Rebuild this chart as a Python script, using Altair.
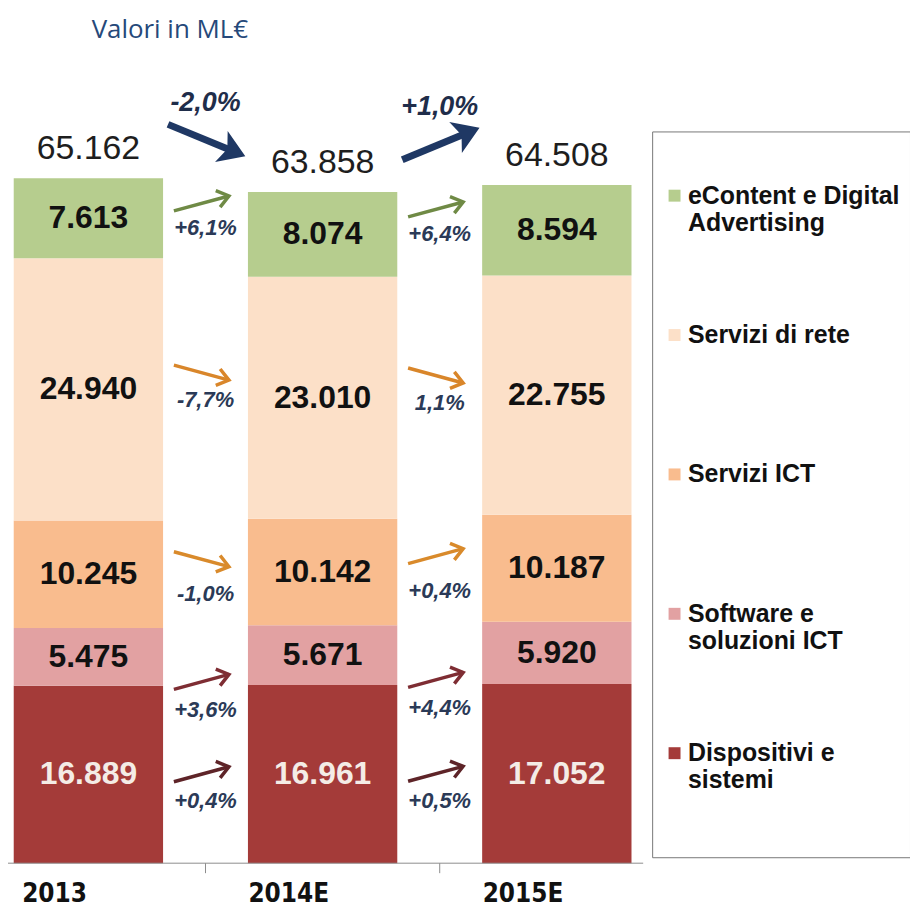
import json
import math
import altair as alt
import pandas as pd

# ---------------- data ----------------
YEARS = ["2013", "2014E", "2015E"]
# stacking order: bottom -> top
CATEGORIES = [
    "Dispositivi e sistemi",
    "Software e soluzioni ICT",
    "Servizi ICT",
    "Servizi di rete",
    "eContent e Digital Advertising",
]
DISPOSITIVI = [16889, 16961, 17052]
SOFTWARE = [5475, 5671, 5920]
SERVIZI_ICT = [10245, 10142, 10187]
SERVIZI_RETE = [24940, 23010, 22755]
ECONTENT = [7613, 8074, 8594]
TOTAL_GROWTH = ["-2,0%", "+1,0%"]
# growth labels per category (bottom -> top), for 2013->2014E and 2014E->2015E
GROWTH_GAP1 = ["+0,4%", "+3,6%", "-1,0%", "-7,7%", "+6,1%"]
GROWTH_GAP2 = ["+0,5%", "+4,4%", "+0,4%", "1,1%", "+6,4%"]
TITLE = "Valori in ML€"

# ---------------- styles / layout ----------------
LEGEND_ORDER = list(reversed(CATEGORIES))
BAR_COLORS = {
    "Dispositivi e sistemi": "#A43B39",
    "Software e soluzioni ICT": "#E2A1A2",
    "Servizi ICT": "#F9BC8E",
    "Servizi di rete": "#FCE0C8",
    "eContent e Digital Advertising": "#B6CD8E",
}
ARROW_COLORS = {
    "Dispositivi e sistemi": "#5E2428",
    "Software e soluzioni ICT": "#7E2D33",
    "Servizi ICT": "#D98A2B",
    "Servizi di rete": "#D9862A",
    "eContent e Digital Advertising": "#6F8A45",
}
ARROW_DY_PX = {  # arrow centre offset from segment middle (px, + = down)
    "Dispositivi e sistemi": 0,
    "Software e soluzioni ICT": 26,
    "Servizi ICT": -14,
    "Servizi di rete": -21,
    "eContent e Digital Advertising": -23,
}
LABEL_GAP_PX = {  # growth label below the arrow centre (px)
    "Dispositivi e sistemi": 27,
    "Software e soluzioni ICT": 28,
    "Servizi ICT": 35,
    "Servizi di rete": 28,
    "eContent e Digital Advertising": 25,
}
LEGEND_LINES = {
    "eContent e Digital Advertising": ["eContent e Digital", "Advertising"],
    "Software e soluzioni ICT": ["Software e", "soluzioni ICT"],
    "Dispositivi e sistemi": ["Dispositivi e", "sistemi"],
}
NAVY = "#1F3864"
AXIS_GREY = "#8c8c8c"
W, H = 638, 805
KX = 239.0
X0 = 0.178
X_DOMAIN = [X0, X0 + W / KX]
Y_MAX = 76244
KY = H / Y_MAX
BAR_W = 150

SERIES = [DISPOSITIVI, SOFTWARE, SERVIZI_ICT, SERVIZI_RETE, ECONTENT]


def fmt(v):
    return f"{v:,}".replace(",", ".")


# ---------------- tables ----------------
rows = []
for yi, year in enumerate(YEARS):
    base = 0
    for ci, cat in enumerate(CATEGORIES):
        v = SERIES[ci][yi]
        rows.append(dict(year=year, xc=yi + 0.5, cat=cat, y0=base, y1=base + v,
                         ymid=base + v / 2, label=fmt(v),
                         tcolor="#F4ECE6" if cat == "Dispositivi e sistemi" else "#111111"))
        base += v
bars = pd.DataFrame(rows)

totals = [sum(s[yi] for s in SERIES) for yi in range(len(YEARS))]
tot_df = pd.DataFrame(dict(xc=[i + 0.5 for i in range(len(YEARS))], total=totals,
                           label=[fmt(t) for t in totals], year=YEARS,
                           base=[0] * len(YEARS)))


def seg_mid(ci, yi):
    return bars[(bars.cat == CATEGORIES[ci]) & (bars.year == YEARS[yi])].ymid.iloc[0]


def angle_of(x1, y1, x2, y2):
    a = math.degrees(math.atan2(-(y2 - y1) * KY, (x2 - x1) * KX))
    return a % 360


small = []
for g, labels in enumerate([GROWTH_GAP1, GROWTH_GAP2]):
    gx = g + 1.0
    for ci, cat in enumerate(CATEGORIES):
        left, right = SERIES[ci][g], SERIES[ci][g + 1]
        d = 1 if right > left else -1
        m = (seg_mid(ci, g) + seg_mid(ci, g + 1)) / 2
        c = m - ARROW_DY_PX[cat] / KY
        hr = 7.5 / KY
        x1, x2 = gx - 0.135, gx + 0.10
        y1, y2 = c - d * hr, c + d * hr
        small.append(dict(gx=gx, x1=x1, x2=x2, y1=y1, y2=y2, ang=angle_of(x1, y1, x2, y2),
                          ylab=c - LABEL_GAP_PX[cat] / KY, label=labels[ci],
                          col=ARROW_COLORS[cat]))
small_df = pd.DataFrame(small)

big = []
for g, lab in enumerate(TOTAL_GROWTH):
    gx = g + 1.0
    d = 1 if totals[g + 1] > totals[g] else -1
    mid = (totals[g] + totals[g + 1]) / 2 + 45 / KY
    hr = 16 / KY
    x1, x2 = gx - 0.16, gx + 0.17
    y1, y2 = mid - d * hr, mid + d * hr
    # shorten the shaft so it ends under the head
    dxp, dyp = (x2 - x1) * KX, (y2 - y1) * KY
    ln = math.hypot(dxp, dyp)
    xe = x2 - (dxp / ln) * 14 / KX
    ye = y2 - (dyp / ln) * 14 / KY
    big.append(dict(gx=gx, x1=x1, y1=y1, xe=xe, ye=ye, x2=x2, y2=y2,
                    ang=angle_of(x1, y1, x2, y2), ylab=mid + 37 / KY, label=lab))
big_df = pd.DataFrame(big)

ticks_df = pd.DataFrame(dict(t=[i + 1.0 for i in range(len(YEARS) - 1)], base=0))
base_df = pd.DataFrame(dict(base=[0]))

# ---------------- encodings ----------------
xs = alt.Scale(domain=X_DOMAIN, nice=False, zero=False)
ys = alt.Scale(domain=[0, Y_MAX], nice=False, zero=False)


def X(f):
    return alt.X(f, type="quantitative", scale=xs, axis=None, title=None)


def Y(f):
    return alt.Y(f, type="quantitative", scale=ys, axis=None, title=None)


label_expr = " : ".join(
    f"datum.label == {json.dumps(k)} ? {json.dumps(v + [''] * (4 - len(v)))}"
    for k, v in LEGEND_LINES.items()
) + " : [datum.label, '', '', '']"

bar_layer = alt.Chart(bars).mark_bar(size=BAR_W).encode(
    x=X("xc"),
    y=Y("y0"),
    y2="y1:Q",
    color=alt.Color("cat:N",
                    scale=alt.Scale(domain=LEGEND_ORDER, range=[BAR_COLORS[c] for c in LEGEND_ORDER]),
                    legend=alt.Legend(orient="none", legendX=647, legendY=70, title=" ",
                                      titleFontSize=23, titlePadding=19, padding=10,
                                      strokeColor="#777777", fillColor="white",
                                      symbolType="square", symbolSize=144, symbolStrokeWidth=0,
                                      labelFontSize=25, labelFont="Liberation Sans",
                                      labelFontWeight="bold", labelColor="#111111",
                                      labelOffset=1, labelLimit=400, rowPadding=33,
                                      labelExpr=label_expr)),
)

# category axis: base line, ticks between the bars and the year labels
base_rule = alt.Chart(base_df).mark_rule(color=AXIS_GREY, strokeWidth=1).encode(
    x=alt.value(0), x2=alt.value(W), y=Y("base")
)
tick_layer = alt.Chart(ticks_df).mark_rule(color=AXIS_GREY, strokeWidth=1).encode(
    x=X("t"), y=alt.value(H), y2=alt.value(H + 10)
)
year_text = alt.Chart(tot_df).mark_text(
    fontSize=26, fontWeight="bold", color="#111111", baseline="middle", dy=31, dx=-34,
    font="Liberation Sans Narrow, Arial Narrow, DejaVu Sans Condensed, Liberation Sans",
).encode(x=X("xc"), y=Y("base"), text="year:N")

seg_text = alt.Chart(bars).mark_text(fontSize=32, fontWeight="bold", font="Liberation Sans").encode(
    x=X("xc"), y=Y("ymid"), text="label:N", color=alt.Color("tcolor:N", scale=None)
)

tot_text = alt.Chart(tot_df).mark_text(fontSize=34, font="Liberation Sans", color="#1E1E1E",
                                       baseline="alphabetic", dy=-19).encode(
    x=X("xc"), y=Y("total"), text="label:N"
)

CHEVRON = "M -1 -0.75 L 0 0 L -1 0.75"
TRI = "M 0 0 L -1 -0.65 L -0.75 0 L -1 0.65 Z"

small_line = alt.Chart(small_df).mark_rule(strokeWidth=3.5).encode(
    x=X("x1"), x2="x2:Q", y=Y("y1"), y2="y2:Q", color=alt.Color("col:N", scale=None)
)
small_head = alt.Chart(small_df).mark_point(shape=CHEVRON, filled=False, size=520,
                                            strokeWidth=3.5, opacity=1).encode(
    x=X("x2"), y=Y("y2"), angle=alt.Angle("ang:Q", scale=None), color=alt.Color("col:N", scale=None)
)
small_text = alt.Chart(small_df).mark_text(fontSize=22, fontWeight="bold", fontStyle="italic",
                                           font="Liberation Sans", color="#2B3A57").encode(
    x=X("gx"), y=Y("ylab"), text="label:N"
)

big_line = alt.Chart(big_df).mark_rule(strokeWidth=7, color=NAVY).encode(
    x=X("x1"), x2="xe:Q", y=Y("y1"), y2="ye:Q"
)
big_head = alt.Chart(big_df).mark_point(shape=TRI, filled=True, size=2700, color=NAVY,
                                        opacity=1).encode(
    x=X("x2"), y=Y("y2"), angle=alt.Angle("ang:Q", scale=None)
)
big_text = alt.Chart(big_df).mark_text(fontSize=27, fontWeight="bold", fontStyle="italic",
                                       font="Liberation Sans", color="#1F2D4A").encode(
    x=X("gx"), y=Y("ylab"), text="label:N"
)

chart = alt.layer(
    bar_layer, base_rule, tick_layer, year_text, seg_text, tot_text,
    small_line, small_head, small_text, big_line, big_head, big_text,
).properties(
    width=W, height=H,
    title=alt.TitleParams(TITLE, anchor="start", frame="group", dx=84, offset=19,
                          fontSize=26, font="Open Sans", fontWeight="normal", color="#26497A"),
    autosize=alt.AutoSizeParams(type="none"),
    padding={"left": 0, "top": 52, "right": 268, "bottom": 43},
    background="white",
).configure_view(stroke=None)

chart.save("out.html", embed_options={"renderer": "svg", "actions": False})
